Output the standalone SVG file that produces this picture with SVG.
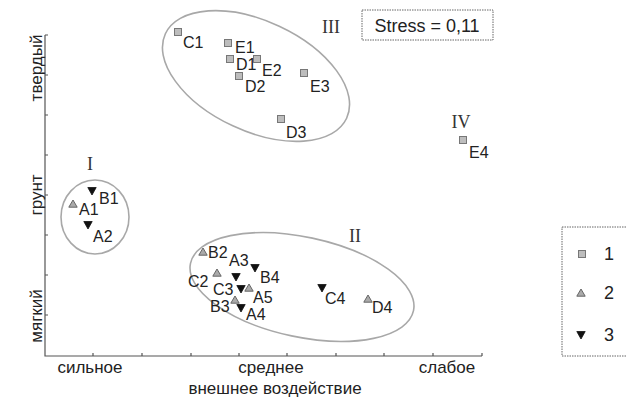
<svg xmlns="http://www.w3.org/2000/svg" width="626" height="399" viewBox="0 0 626 399">
<style>
.lbl{font-family:"Liberation Sans",Arial,sans-serif;font-size:16px;fill:#222}
.ax{font-family:"Liberation Sans",Arial,sans-serif;font-size:17px;fill:#222}
.st{font-family:"Liberation Sans",Arial,sans-serif;font-size:18px;fill:#222}
.rom{font-family:"Liberation Serif","Times New Roman",serif;font-size:18px;fill:#333}
.ell{fill:none;stroke:#a8a8a8;stroke-width:1.6}
.axis{stroke:#555;stroke-width:1.2;fill:none}
.box{fill:none;stroke:#666;stroke-width:1;stroke-dasharray:1.5 1}
</style>
<defs>
<rect id="sq" x="-3.5" y="-3.5" width="7" height="7" fill="#bdbdbd" stroke="#777" stroke-width="1"/>
<polygon id="tu" points="0,-4 4.2,3.2 -4.2,3.2" fill="#aaa" stroke="#666" stroke-width="1"/>
<polygon id="td" points="-4.2,-3.5 4.2,-3.5 0,4" fill="#111" stroke="#111" stroke-width="0.8"/>
</defs>
<rect width="626" height="399" fill="#fff"/>
<g id="axes">
<path class="axis" d="M45,35 V356 H482"/>
<path class="axis" d="M45,35 h3 M45,75 h3 M45,115 h3 M45,155 h3 M45,195 h3 M45,235 h3 M45,275 h3 M45,315 h3"/>
<path class="axis" d="M93,356 v-3 M142,356 v-3 M191,356 v-3 M239,356 v-3 M287,356 v-3 M336,356 v-3 M384,356 v-3 M433,356 v-3 M482,356 v-3"/>
<text class="ax" x="90" y="373" text-anchor="middle">сильное</text>
<text class="ax" x="271" y="373" text-anchor="middle">среднее</text>
<text class="ax" x="447" y="373" text-anchor="middle">слабое</text>
<text class="ax" x="275" y="394" text-anchor="middle">внешнее воздействие</text>
<text class="ax" transform="translate(42,68) rotate(-90)" text-anchor="middle">твердый</text>
<text class="ax" transform="translate(42,195) rotate(-90)" text-anchor="middle">грунт</text>
<text class="ax" transform="translate(42,316) rotate(-90)" text-anchor="middle">мягкий</text>
</g>
<g id="connectors"></g>
<g id="cluster-I">
<ellipse class="ell" cx="95" cy="217" rx="34" ry="37"/>
<text class="rom" x="90" y="170" text-anchor="middle">I</text>
<use href="#tu" x="73" y="204"/><text class="lbl" x="79" y="215">A1</text>
<use href="#td" x="92" y="191"/><text class="lbl" x="99" y="204">B1</text>
<use href="#td" x="88" y="225"/><text class="lbl" x="93" y="242">A2</text>
</g>
<g id="cluster-II">
<ellipse class="ell" cx="302" cy="287" rx="114" ry="50" transform="rotate(12 302 287)"/>
<text class="rom" x="355" y="242" text-anchor="middle">II</text>
<use href="#tu" x="203" y="252"/><text class="lbl" x="208" y="258">B2</text>
<text class="lbl" x="229" y="266">A3</text>
<use href="#td" x="236" y="277"/>
<use href="#td" x="255" y="268"/><text class="lbl" x="260" y="283">B4</text>
<use href="#tu" x="217" y="273"/><text class="lbl" x="188" y="287">C2</text>
<text class="lbl" x="213" y="295">C3</text>
<use href="#td" x="241" y="289"/>
<use href="#tu" x="249" y="288"/><text class="lbl" x="253" y="303">A5</text>
<use href="#tu" x="235" y="300"/><text class="lbl" x="210" y="312">B3</text>
<use href="#td" x="241" y="308"/><text class="lbl" x="246" y="320">A4</text>
<use href="#td" x="322" y="288"/><text class="lbl" x="325" y="304">C4</text>
<use href="#tu" x="368" y="299"/><text class="lbl" x="372" y="313">D4</text>
</g>
<g id="cluster-III">
<ellipse class="ell" cx="256" cy="76" rx="100" ry="55" transform="rotate(25 256 76)"/>
<text class="rom" x="331" y="33" text-anchor="middle">III</text>
<use href="#sq" x="178" y="32"/><text class="lbl" x="183" y="48">C1</text>
<use href="#sq" x="228" y="43"/><text class="lbl" x="235" y="53">E1</text>
<use href="#sq" x="230" y="59"/><text class="lbl" x="236" y="70">D1</text>
<use href="#sq" x="257" y="59"/><text class="lbl" x="262" y="76">E2</text>
<use href="#sq" x="239" y="76"/><text class="lbl" x="245" y="92">D2</text>
<use href="#sq" x="304" y="73"/><text class="lbl" x="310" y="92">E3</text>
<use href="#sq" x="281" y="119"/><text class="lbl" x="286" y="138">D3</text>
</g>
<g id="cluster-IV">
<text class="rom" x="461" y="128" text-anchor="middle">IV</text>
<use href="#sq" x="463" y="140"/><text class="lbl" x="469" y="158">E4</text>
</g>
<g id="stress">
<rect class="box" x="362" y="10" width="131" height="30"/>
<text class="st" x="427" y="32" text-anchor="middle">Stress = 0,11</text>
</g>
<g id="legend">
<rect class="box" x="562" y="227" width="70" height="129"/>
<use href="#sq" x="582" y="254"/><text class="st" x="609" y="260" text-anchor="middle">1</text>
<use href="#tu" x="581" y="293"/><text class="st" x="609" y="299" text-anchor="middle">2</text>
<use href="#td" x="581" y="335"/><text class="st" x="609" y="341" text-anchor="middle">3</text>
</g>
</svg>
